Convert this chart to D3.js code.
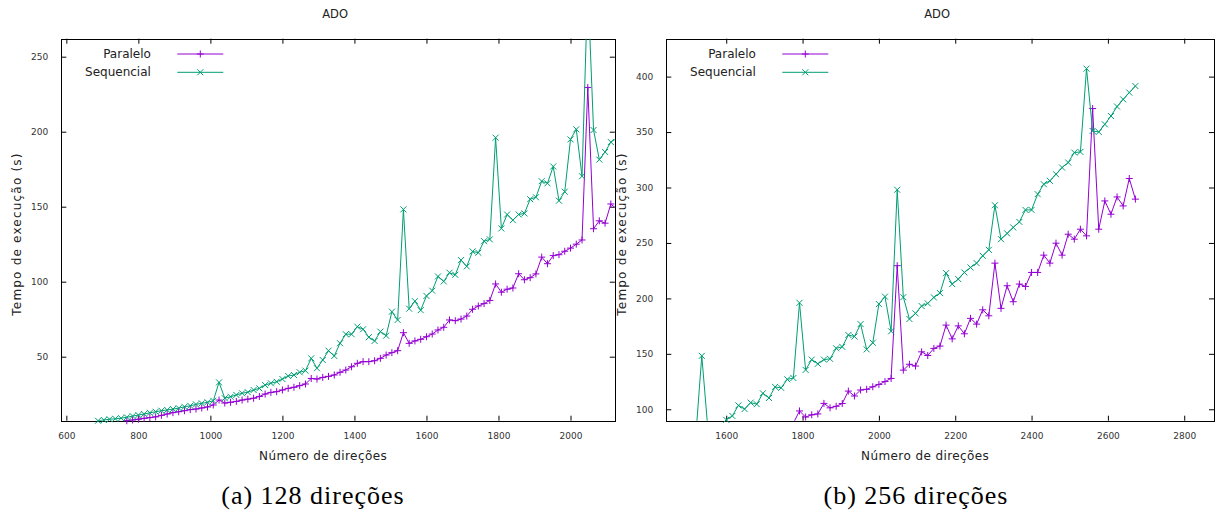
<!DOCTYPE html>
<html>
<head>
<meta charset="utf-8">
<script src="https://cdn.jsdelivr.net/npm/d3@7"></script>
<style>
  body { margin: 0; background: #fff; }
  svg { display: block; font-family: "DejaVu Sans", sans-serif; }
  .tick text { fill: #333; font-size: 9px; font-family: "DejaVu Sans", sans-serif; }
  .tick line { stroke: #000; }
</style>
</head>
<body>
<svg id="chart"></svg>
<script>
const WIDTH = 1219;
const HEIGHT = 516;
const PLOT_TOP = 38.7;
const PLOT_BOTTOM = 420.7;
const TICK = 5;

// Número de direções (one run every 16 directions)
const direcoes = [
  688, 704, 720, 736, 752, 768, 784, 800, 816, 832,
  848, 864, 880, 896, 912, 928, 944, 960, 976, 992,
  1008, 1024, 1040, 1056, 1072, 1088, 1104, 1120, 1136, 1152,
  1168, 1184, 1200, 1216, 1232, 1248, 1264, 1280, 1296, 1312,
  1328, 1344, 1360, 1376, 1392, 1408, 1424, 1440, 1456, 1472,
  1488, 1504, 1520, 1536, 1552, 1568, 1584, 1600, 1616, 1632,
  1648, 1664, 1680, 1696, 1712, 1728, 1744, 1760, 1776, 1792,
  1808, 1824, 1840, 1856, 1872, 1888, 1904, 1920, 1936, 1952,
  1968, 1984, 2000, 2016, 2032, 2048, 2064, 2080, 2096, 2112,
  2128, 2144, 2160, 2176, 2192, 2208, 2224, 2240, 2256, 2272,
  2288, 2304, 2320, 2336, 2352, 2368, 2384, 2400, 2416, 2432,
  2448, 2464, 2480, 2496, 2512, 2528, 2544, 2560, 2576, 2592,
  2608, 2624, 2640, 2656, 2672
];

// Tempo de execução (s)
const paralelo = [
  4.6, 5.0, 5.5, 6.0, 6.6, 7.3, 7.8, 8.3, 8.9, 9.4,
  9.9, 10.9, 11.8, 12.7, 13.3, 14.0, 14.7, 15.1, 15.8, 16.5,
  17.8, 21.1, 19.1, 19.6, 20.2, 21.1, 21.7, 22.3, 23.5, 25.1,
  26.2, 26.7, 27.8, 28.9, 29.6, 30.7, 31.8, 35.5, 35.1, 36.2,
  36.9, 37.8, 39.6, 41.1, 43.3, 45.6, 46.7, 46.7, 47.3, 48.9,
  51.1, 52.7, 54.0, 66.0, 58.9, 60.5, 61.6, 63.3, 65.1, 67.8,
  69.6, 74.5, 74.0, 75.1, 77.1, 81.6, 83.8, 85.4, 87.5, 98.5,
  93.0, 95.0, 95.8, 105.3, 101.3, 102.7, 105.2, 116.4, 112.0, 117.4,
  118.0, 120.3, 122.4, 125.0, 127.8, 229.5, 135.3, 140.6, 139.0, 151.8,
  148.5, 154.9, 157.0, 175.9, 163.5, 175.2, 168.1, 182.0, 176.8, 189.7,
  184.3, 231.8, 191.0, 211.4, 197.0, 212.9, 210.8, 223.4, 223.4, 239.0,
  231.8, 249.8, 239.0, 257.9, 253.4, 262.4, 256.4, 371.2, 262.4, 287.9,
  275.9, 291.5, 283.4, 308.1, 289.5
];

const sequencial = [
  7.3, 7.8, 8.3, 8.6, 9.0, 9.6, 10.4, 11.1, 11.8, 12.6,
  13.3, 14.0, 14.5, 15.1, 15.7, 16.6, 17.3, 18.2, 18.9, 19.6,
  20.6, 32.9, 22.3, 23.3, 24.5, 25.6, 26.3, 27.8, 28.9, 31.1,
  32.3, 33.3, 35.1, 37.1, 37.8, 39.6, 40.7, 48.9, 42.3, 47.8,
  54.0, 50.5, 59.0, 65.0, 65.0, 70.0, 68.3, 63.0, 60.5, 66.7,
  64.0, 80.0, 74.5, 148.2, 82.0, 87.0, 81.0, 90.5, 94.0, 103.5,
  100.2, 106.0, 104.6, 114.4, 110.2, 120.2, 119.3, 127.0, 128.2, 196.0,
  135.5, 144.8, 141.0, 144.8, 145.5, 155.0, 156.3, 167.0, 165.6, 176.8,
  154.0, 160.0, 194.9, 201.6, 170.3, 298.0, 201.1, 181.4, 186.5, 193.1,
  195.5, 200.9, 204.8, 222.8, 212.9, 217.4, 223.4, 227.9, 231.8, 238.4,
  243.8, 284.0, 253.4, 258.6, 264.0, 269.0, 279.8, 279.8, 294.0, 303.0,
  306.0, 312.0, 318.0, 322.5, 331.5, 332.1, 407.2, 351.0, 350.1, 357.0,
  364.5, 373.0, 379.5, 385.6, 391.5
];

const seriesNames = ['Paralelo', 'Sequencial'];
const seriesColors = ['#9400d3', '#009e73'];

const xTicksA = [600, 800, 1000, 1200, 1400, 1600, 1800, 2000];
const yTicksA = [50, 100, 150, 200, 250];
const xTicksB = [1600, 1800, 2000, 2200, 2400, 2600, 2800];
const yTicksB = [100, 150, 200, 250, 300, 350, 400];

const captions = ['(a) 128 direções', '(b) 256 direções'];

// the two panels only differ by their visible window
const panels = [
  {left: 61.3, right: 614.8, xDomain: [586, 2123], yDomain: [7.33, 262], xTicks: xTicksA, yTicks: yTicksA, captionX: 313},
  {left: 666.3, right: 1214, xDomain: [1443, 2878], yDomain: [89.7, 434.2], xTicks: xTicksB, yTicks: yTicksB, captionX: 916}
];

const svg = d3.select('#chart')
  .attr('width', WIDTH)
  .attr('height', HEIGHT)
  .attr('viewBox', `0 0 ${WIDTH} ${HEIGHT}`);

const plus = 'M-3.5,0H3.5M0,-3.5V3.5';
const cross = 'M-3,-3L3,3M-3,3L3,-3';
const markers = [plus, cross];

const rows = direcoes.map((d, i) => ({x: d, values: [paralelo[i], sequencial[i]]}));

panels.forEach((p, pi) => {
  const x = d3.scaleLinear().domain(p.xDomain).range([p.left, p.right]);
  const y = d3.scaleLinear().domain(p.yDomain).range([PLOT_BOTTOM, PLOT_TOP]);
  const g = svg.append('g');
  const clipId = 'clip-' + pi;

  g.append('clipPath').attr('id', clipId)
    .append('rect')
    .attr('x', p.left).attr('y', PLOT_TOP)
    .attr('width', p.right - p.left).attr('height', PLOT_BOTTOM - PLOT_TOP);

  // axes, ticks pointing inwards and mirrored like gnuplot
  const fmt = d3.format('d');
  g.append('g').attr('transform', `translate(0,${PLOT_BOTTOM})`)
    .call(d3.axisBottom(x).tickValues(p.xTicks).tickSize(-TICK).tickPadding(12).tickFormat(fmt));
  g.append('g').attr('transform', `translate(0,${PLOT_TOP})`)
    .call(d3.axisTop(x).tickValues(p.xTicks).tickSize(-TICK).tickFormat(''));
  g.append('g').attr('transform', `translate(${p.left},0)`)
    .call(d3.axisLeft(y).tickValues(p.yTicks).tickSize(-TICK).tickPadding(13).tickFormat(fmt));
  g.append('g').attr('transform', `translate(${p.right},0)`)
    .call(d3.axisRight(y).tickValues(p.yTicks).tickSize(-TICK).tickFormat(''));
  g.selectAll('.domain').remove();

  g.append('rect')
    .attr('x', Math.round(p.left) + 0.5).attr('y', Math.round(PLOT_TOP) + 0.5)
    .attr('width', Math.round(p.right) - Math.round(p.left))
    .attr('height', Math.round(PLOT_BOTTOM) - Math.round(PLOT_TOP))
    .attr('fill', 'none').attr('stroke', '#000').attr('stroke-width', 1);

  // series
  seriesNames.forEach((name, si) => {
    const line = d3.line().x(d => x(d.x)).y(d => y(d.values[si]));
    g.append('path')
      .datum(rows)
      .attr('clip-path', `url(#${clipId})`)
      .attr('d', line)
      .attr('fill', 'none')
      .attr('stroke', seriesColors[si])
      .attr('stroke-width', 1);

    const inside = rows.filter(d => d.x >= p.xDomain[0] && d.x <= p.xDomain[1]
      && d.values[si] >= p.yDomain[0] - 0.5 && d.values[si] <= p.yDomain[1]);
    g.selectAll(null)
      .data(inside)
      .enter()
      .append('path')
      .attr('transform', d => `translate(${x(d.x)},${y(d.values[si])})`)
      .attr('d', markers[si])
      .attr('fill', 'none')
      .attr('stroke', seriesColors[si])
      .attr('stroke-width', 1);
  });

  // legend
  seriesNames.forEach((name, si) => {
    const ly = [54, 72.3][si];
    g.append('text')
      .attr('x', p.left + 89.6).attr('y', ly)
      .attr('text-anchor', 'end').attr('dominant-baseline', 'central')
      .attr('font-size', 12).attr('fill', '#222')
      .text(name);
    g.append('line')
      .attr('x1', p.left + 116).attr('x2', p.left + 162)
      .attr('y1', ly).attr('y2', ly)
      .attr('stroke', seriesColors[si]).attr('stroke-width', 1);
    g.append('path')
      .attr('transform', `translate(${p.left + 139},${ly})`)
      .attr('d', markers[si])
      .attr('fill', 'none').attr('stroke', seriesColors[si]);
  });

  const cx = (p.left + p.right) / 2;
  g.append('text')
    .attr('x', cx - 3).attr('y', 14)
    .attr('text-anchor', 'middle').attr('dominant-baseline', 'central')
    .attr('font-size', 11.5).attr('fill', '#222')
    .text('ADO');

  g.append('text')
    .attr('x', cx - 15).attr('y', 456)
    .attr('text-anchor', 'middle').attr('dominant-baseline', 'central')
    .attr('font-size', 12).attr('fill', '#222')
    .attr('letter-spacing', 0.4)
    .text('Número de direções');

  g.append('text')
    .attr('transform', `translate(${p.left - 44.8},234) rotate(-90)`)
    .attr('text-anchor', 'middle').attr('dominant-baseline', 'central')
    .attr('font-size', 12).attr('fill', '#222')
    .attr('letter-spacing', 1.2)
    .text('Tempo de execução (s)');

  svg.append('text')
    .attr('x', p.captionX).attr('y', 504)
    .attr('text-anchor', 'middle')
    .attr('font-family', '"Liberation Serif", serif')
    .attr('font-size', 26).attr('fill', '#000')
    .attr('letter-spacing', 1)
    .text(captions[pi]);
});
</script>
</body>
</html>
